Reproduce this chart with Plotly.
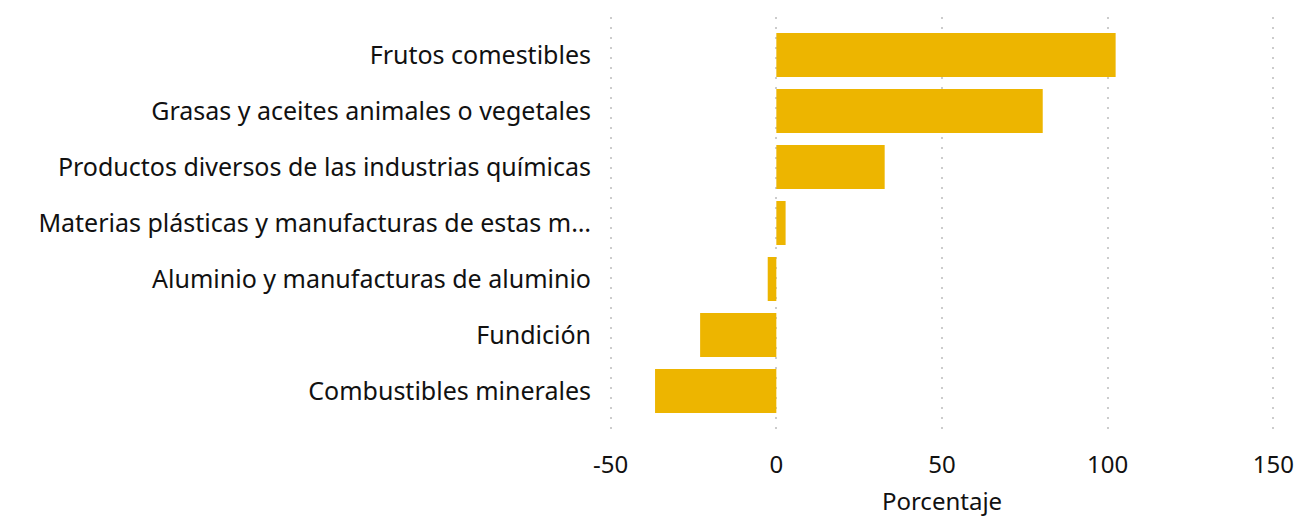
import plotly.graph_objects as go

categories = [
    "Frutos comestibles",
    "Grasas y aceites animales o vegetales",
    "Productos diversos de las industrias químicas",
    "Materias plásticas y manufacturas de estas m…",
    "Aluminio y manufacturas de aluminio",
    "Fundición",
    "Combustibles minerales",
]
values = [102.4, 80.4, 32.7, 2.8, -2.6, -23.0, -36.6]
x_ticks = [-50, 0, 50, 100, 150]
x_ticklabels = ["-50", "0", "50", "100", "150"]

fig = go.Figure(go.Bar(
    x=values,
    y=categories,
    orientation="h",
    marker=dict(color="#EDB500", line=dict(width=0)),
    width=0.786,
    hoverinfo="skip",
))

font_family = "Noto Sans, Open Sans, sans-serif"
txt = "#111111"
fig.update_layout(
    width=1297, height=517,
    margin=dict(l=608, r=21, t=17, b=88),
    plot_bgcolor="white", paper_bgcolor="white",
    showlegend=False,
    font=dict(family=font_family, size=25, color=txt),
)
fig.update_xaxes(
    range=[-50.8, 150.8],
    tickvals=x_ticks, ticktext=x_ticklabels,
    showgrid=True, gridcolor="#cccccc", griddash="2px,8px", gridwidth=1.5,
    zeroline=False, showline=False,
    ticks="", ticklabelstandoff=19,
    tickfont=dict(size=24, color=txt),
    title=dict(text="Porcentaje", font=dict(size=24, color=txt), standoff=20),
    automargin=False,
)
fig.update_yaxes(
    autorange=False, range=[6.68, -0.68],
    categoryorder="array", categoryarray=categories,
    showgrid=False, zeroline=False, showline=False,
    ticks="", ticklabelstandoff=16,
    tickfont=dict(size=25, color=txt),
    automargin=False,
)

fig.write_html(
    "out.html",
    config={"displayModeBar": False},
    post_script="document.body.style.margin='0';document.body.style.padding='0';",
)
